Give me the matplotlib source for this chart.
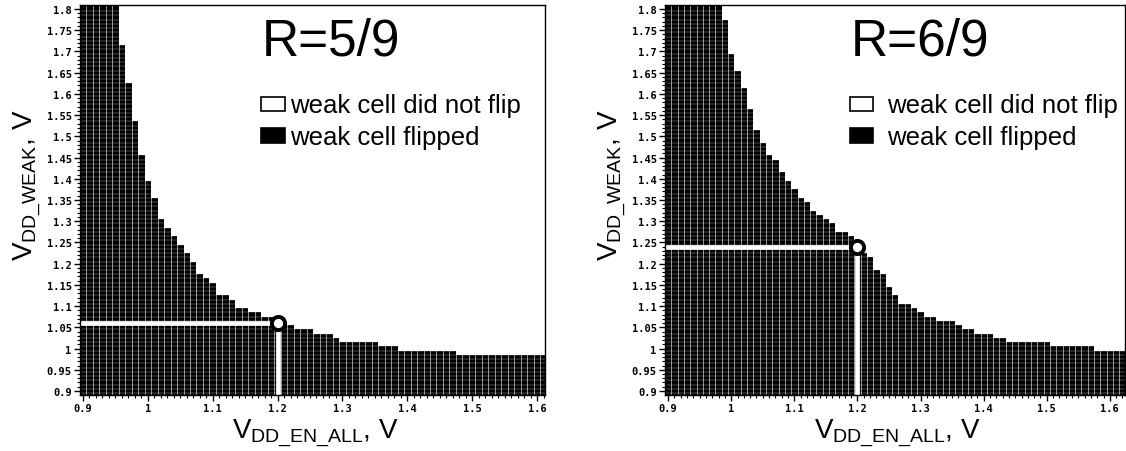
import matplotlib
matplotlib.use("Agg")
import matplotlib.pyplot as plt
import numpy as np
from matplotlib.colors import ListedColormap
from matplotlib.patches import Rectangle
from matplotlib.ticker import MultipleLocator, FuncFormatter

# grid of swept supplies (V)
vdd_weak = np.round(np.arange(0.89, 1.805, 0.01), 2)
vdd_all_left = np.round(np.arange(0.90, 1.615, 0.01), 2)
vdd_all_right = np.round(np.arange(0.90, 1.625, 0.01), 2)

# highest V_DD_WEAK at which the weak cell flipped, one value per V_DD_EN_ALL column
flip_left = [1.80, 1.80, 1.80, 1.80, 1.80, 1.80, 1.71, 1.62, 1.53, 1.45,
             1.39, 1.35, 1.30, 1.28, 1.26, 1.24, 1.22, 1.20, 1.17, 1.16,
             1.15, 1.12, 1.12, 1.11, 1.09, 1.09, 1.08, 1.08, 1.07, 1.07,
             1.06, 1.05, 1.05, 1.04, 1.04, 1.04, 1.03, 1.03, 1.03, 1.02,
             1.01, 1.01, 1.01, 1.01, 1.01, 1.01, 1.00, 1.00, 1.00, 0.99,
             0.99, 0.99, 0.99, 0.99, 0.99, 0.99, 0.99, 0.99, 0.98, 0.98,
             0.98, 0.98, 0.98, 0.98, 0.98, 0.98, 0.98, 0.98, 0.98, 0.98,
             0.98, 0.98]
flip_right = [1.80, 1.80, 1.80, 1.80, 1.80, 1.80, 1.80, 1.80, 1.80, 1.77,
              1.69, 1.65, 1.61, 1.56, 1.51, 1.48, 1.45, 1.44, 1.41, 1.39,
              1.37, 1.35, 1.34, 1.32, 1.31, 1.30, 1.29, 1.27, 1.27, 1.26,
              1.24, 1.22, 1.21, 1.18, 1.17, 1.14, 1.12, 1.10, 1.10, 1.09,
              1.08, 1.07, 1.07, 1.06, 1.06, 1.06, 1.05, 1.04, 1.04, 1.03,
              1.03, 1.03, 1.02, 1.02, 1.01, 1.01, 1.01, 1.01, 1.01, 1.01,
              1.01, 1.00, 1.00, 1.00, 1.00, 1.00, 1.00, 1.00, 0.99, 0.99,
              0.99, 0.99, 0.99]

ratios = ["R=5/9", "R=6/9"]
op_point_left = (1.20, 1.06)
op_point_right = (1.20, 1.24)
legend_labels = ["weak cell did not flip", "weak cell flipped"]

plt.rcParams['font.family'] = ['Liberation Sans', 'DejaVu Sans']
plt.rcParams['mathtext.fontset'] = 'custom'
plt.rcParams['mathtext.rm'] = 'Liberation Sans'
plt.rcParams['mathtext.it'] = 'Liberation Sans'


def edges(centers, lo, hi):
    e = np.concatenate([[centers[0] - 0.005], (centers[:-1] + centers[1:]) / 2,
                        [centers[-1] + 0.005]])
    e[0] = lo
    e[-1] = hi
    return e


def draw_panel(ax, xs, flips, title, op, xlim, ylim, leg_x, txt_x):
    grid = np.array([[1 if y <= f + 1e-9 else 0 for f in flips] for y in vdd_weak])
    xe = edges(xs, xlim[0] - 0.005, xlim[1] + 0.005)
    ye = edges(vdd_weak, ylim[0] - 0.005, ylim[1] + 0.005)
    ax.pcolormesh(xe, ye, grid, cmap=ListedColormap(['white', 'black']),
                  vmin=0, vmax=1, antialiased=False)
    # fine white cell grid (only shows on the black cells)
    ax.vlines(xe[1:-1], ylim[0], ylim[1], colors='white', lw=0.45, alpha=0.9)
    ax.hlines(ye[1:-1], xlim[0], xlim[1], colors='white', lw=0.3, alpha=0.7)

    # operating point markers
    ax.plot([xlim[0], op[0] - 0.006], [op[1], op[1]], color='white', lw=3.4,
            solid_capstyle='butt', zorder=3)
    ax.plot([op[0], op[0]], [ylim[0], op[1] - 0.008], color='white', lw=3.4,
            solid_capstyle='butt', zorder=3)
    ax.plot(op[0], op[1], 'o', ms=9.5, mfc='white', mec='black', mew=2.8,
            zorder=4)

    ax.set_xlim(*xlim)
    ax.set_ylim(*ylim)
    ax.xaxis.set_major_locator(MultipleLocator(0.1))
    ax.xaxis.set_minor_locator(MultipleLocator(0.01))
    ax.yaxis.set_major_locator(MultipleLocator(0.05))
    ax.yaxis.set_minor_locator(MultipleLocator(0.01))
    fmt = FuncFormatter(lambda v, p: "%g" % round(v, 2))
    ax.xaxis.set_major_formatter(fmt)
    ax.yaxis.set_major_formatter(fmt)
    ax.tick_params(which='major', direction='out', length=4, width=1,
                   labelsize=7.5, pad=2)
    ax.tick_params(which='minor', direction='out', length=2.5, width=0.8)
    for lab in ax.get_xticklabels() + ax.get_yticklabels():
        lab.set_family('DejaVu Sans Mono')
        lab.set_weight('bold')
    for s in ax.spines.values():
        s.set_linewidth(1)
        s.set_zorder(6)

    ax.set_xlabel(r'$\mathrm{V_{DD\_EN\_ALL}}$, V', fontsize=20)
    ax.set_ylabel(r'$\mathrm{V_{DD\_WEAK}}$, V', fontsize=20)
    ax.xaxis.set_label_coords(0.505, -0.055)
    ax.yaxis.set_label_coords(-0.08, 0.54)

    ax.text(leg_x, 0.874, title, transform=ax.transAxes, fontsize=37,
            ha='left', va='baseline', zorder=5)
    ax.add_patch(Rectangle((leg_x, 0.727), 0.05, 0.038, transform=ax.transAxes,
                           facecolor='white', edgecolor='black', lw=1.2,
                           zorder=5))
    ax.add_patch(Rectangle((leg_x, 0.645), 0.05, 0.04, transform=ax.transAxes,
                           facecolor='black', edgecolor='black', lw=1.2,
                           zorder=5))
    ax.text(txt_x, 0.744, legend_labels[0], transform=ax.transAxes,
            fontsize=18.5, ha='left', va='center', zorder=5)
    ax.text(txt_x, 0.662, legend_labels[1], transform=ax.transAxes,
            fontsize=18.5, ha='left', va='center', zorder=5)


fig = plt.figure(figsize=(11.26, 4.52), dpi=100)
ax1 = fig.add_axes([80 / 1126, 56 / 452, 465 / 1126, 390 / 452])
ax2 = fig.add_axes([665 / 1126, 56 / 452, 460 / 1126, 390 / 452])

draw_panel(ax1, vdd_all_left, flip_left, ratios[0], op_point_left,
           (0.8954, 1.6123), (0.8905, 1.8094), 0.39, 0.452)
draw_panel(ax2, vdd_all_right, flip_right, ratios[1], op_point_right,
           (0.895, 1.624), (0.8905, 1.8094), 0.403, 0.483)

fig.savefig("out.png", dpi=100)
